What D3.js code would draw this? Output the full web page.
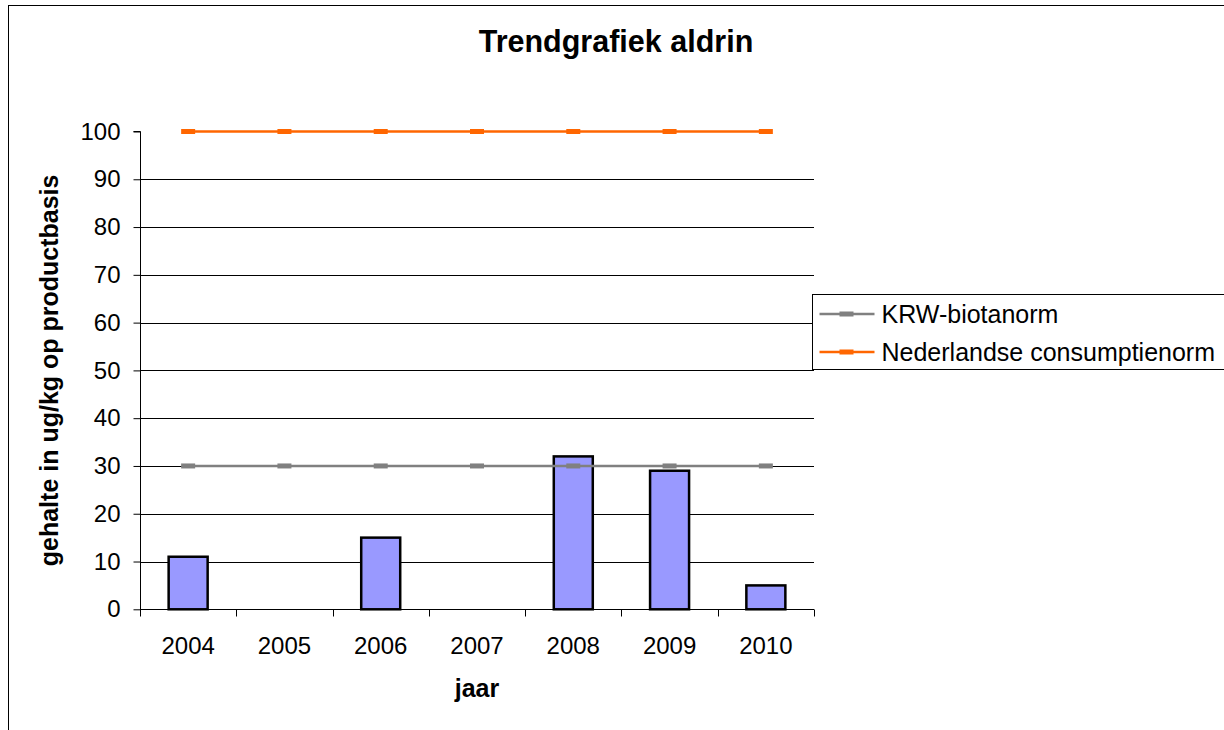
<!DOCTYPE html>
<meta charset="utf-8">
<title>Trendgrafiek aldrin</title>
<style>
body {
  margin: 0px;
  background: #fff;
}
svg {
  font-family: "Liberation Sans", Arial, sans-serif;
}
.grid line {
  stroke: #000;
  stroke-width: 1px;
}
.bar {
  fill: #9999ff;
  stroke: #000;
  stroke-width: 2.5px;
}
</style>
<script src="https://d3js.org/d3.v7.min.js"></script>
<body>
<script>
var width = 1224, height = 730;

// data
var years = ["2004", "2005", "2006", "2007", "2008", "2009", "2010"];
var gehalte = [11, null, 15, null, 32, 29, 5];
var krwNorm = [30, 30, 30, 30, 30, 30, 30];
var nlNorm = [100, 100, 100, 100, 100, 100, 100];
var yTicks = [0, 10, 20, 30, 40, 50, 60, 70, 80, 90, 100];
var series = [
  {name: "KRW-biotanorm", values: krwNorm, color: "#808080"},
  {name: "Nederlandse consumptienorm", values: nlNorm, color: "#ff6600"}
];

var plot = {left: 140, right: 814, top: 131.5, bottom: 609.3};

var svg = d3.select("body").append("svg")
    .attr("width", width)
    .attr("height", height);

// outer chart border (runs off right/bottom edges)
svg.append("rect")
    .attr("x", 8.5).attr("y", 5.5)
    .attr("width", 1300).attr("height", 800)
    .attr("fill", "none")
    .attr("stroke", "#000")
    .attr("stroke-width", 1);

var x = d3.scaleBand()
    .domain(years)
    .range([plot.left, plot.right]);

var y = d3.scaleLinear()
    .domain([0, 100])
    .range([plot.bottom, plot.top]);

// gridlines
svg.append("g")
    .attr("class", "grid")
  .selectAll("line")
    .data(yTicks.filter(function(d) { return d > 0 && d < 100; }))
  .enter().append("line")
    .attr("x1", plot.left)
    .attr("x2", plot.right)
    .attr("y1", function(d) { return Math.round(y(d)) + 0.5; })
    .attr("y2", function(d) { return Math.round(y(d)) + 0.5; });

// bars
var barW = 39;
svg.selectAll("rect.bar")
    .data(years.map(function(d, i) { return {year: d, v: gehalte[i]}; })
      .filter(function(d) { return d.v != null; }))
  .enter().append("rect")
    .attr("class", "bar")
    .attr("x", function(d) { return x(d.year) + x.bandwidth() / 2 - barW / 2; })
    .attr("y", function(d) { return y(d.v); })
    .attr("width", barW)
    .attr("height", function(d) { return y(0) - y(d.v); });

// norm lines with dash markers
var line = d3.line()
    .x(function(d, i) { return x(years[i]) + x.bandwidth() / 2; })
    .y(function(d) { return y(d); });

series.forEach(function(s) {
  var g = svg.append("g");
  g.append("path")
      .attr("d", line(s.values))
      .attr("fill", "none")
      .attr("stroke", s.color)
      .attr("stroke-width", 2.5);
  g.selectAll("rect")
      .data(s.values)
    .enter().append("rect")
      .attr("x", function(d, i) { return x(years[i]) + x.bandwidth() / 2 - 7; })
      .attr("y", function(d) { return y(d) - 2.5; })
      .attr("width", 14)
      .attr("height", 5)
      .attr("fill", s.color);
});

// y axis
var yAxis = svg.append("g")
    .attr("transform", "translate(" + (plot.left + 0.5) + ",0)")
    .call(d3.axisLeft(y).tickValues(yTicks).tickSize(7).tickPadding(13));
yAxis.select(".domain").attr("d", "M-7," + plot.top + "H0V" + plot.bottom);
yAxis.selectAll("text")
    .style("font-size", "24px")
    .style("font-family", "Liberation Sans, Arial, sans-serif")
    .attr("fill", "#000");

// x axis
var xAxis = svg.append("g")
    .attr("transform", "translate(0," + (Math.round(plot.bottom) + 0.5) + ")");
xAxis.append("line")
    .attr("x1", plot.left).attr("x2", plot.right)
    .attr("stroke", "#000");
xAxis.selectAll("line.tick")
    .data(years.concat(["end"]))
  .enter().append("line")
    .attr("class", "tick")
    .attr("x1", function(d, i) { return Math.round(plot.left + i * x.step()) + 0.5; })
    .attr("x2", function(d, i) { return Math.round(plot.left + i * x.step()) + 0.5; })
    .attr("y1", 0).attr("y2", 7)
    .attr("stroke", "#000");
xAxis.selectAll("text")
    .data(years)
  .enter().append("text")
    .attr("x", function(d) { return x(d) + x.bandwidth() / 2; })
    .attr("y", 44)
    .attr("text-anchor", "middle")
    .style("font-size", "24px")
    .text(function(d) { return d; });

// titles
svg.append("text")
    .attr("x", 616)
    .attr("y", 52)
    .attr("text-anchor", "middle")
    .style("font-size", "30.5px")
    .style("font-weight", "bold")
    .text("Trendgrafiek aldrin");

svg.append("text")
    .attr("x", 477)
    .attr("y", 697)
    .attr("text-anchor", "middle")
    .style("font-size", "25px")
    .style("font-weight", "bold")
    .text("jaar");

svg.append("text")
    .attr("transform", "translate(58," + ((plot.top + plot.bottom) / 2) + ") rotate(-90)")
    .attr("text-anchor", "middle")
    .style("font-size", "25px")
    .style("font-weight", "bold")
    .text("gehalte in ug/kg op productbasis");

// legend
var legend = svg.append("g")
    .attr("transform", "translate(812.5,294.5)");
legend.append("rect")
    .attr("width", 420)
    .attr("height", 75)
    .attr("fill", "#fff")
    .attr("stroke", "#000");
var item = legend.selectAll("g.item")
    .data(series)
  .enter().append("g")
    .attr("class", "item")
    .attr("transform", function(d, i) { return "translate(0," + (19.5 + i * 38) + ")"; });
item.append("line")
    .attr("x1", 7).attr("x2", 62)
    .attr("stroke", function(d) { return d.color; })
    .attr("stroke-width", 2.5);
item.append("rect")
    .attr("x", 27).attr("y", -2.5)
    .attr("width", 14).attr("height", 5)
    .attr("fill", function(d) { return d.color; });
item.append("text")
    .attr("x", 69)
    .attr("y", 9)
    .style("font-size", "25px")
    .text(function(d) { return d.name; });
</script>
